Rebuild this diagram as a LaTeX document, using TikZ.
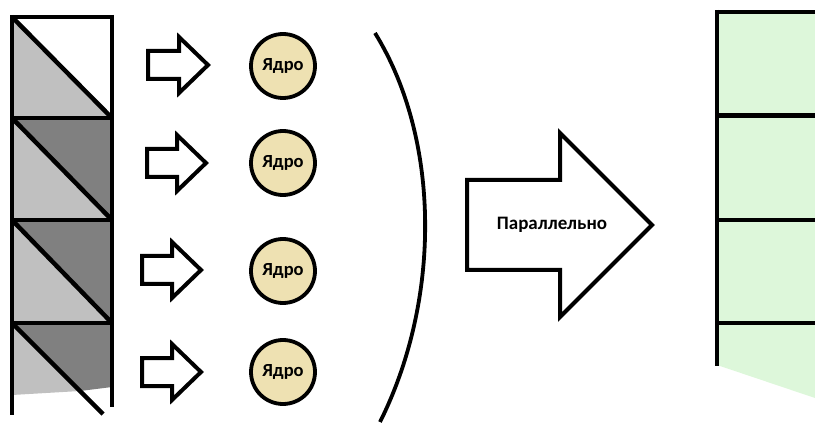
\documentclass[tikz,border=0pt]{standalone}
\usepackage{fontspec}
\setmainfont{Carlito}
\definecolor{lgray}{RGB}{192,192,192}
\definecolor{dgray}{RGB}{128,128,128}
\definecolor{core}{RGB}{238,225,178}
\definecolor{lgreen}{RGB}{221,247,218}
\tikzset{
  thickline/.style={line width=4.5pt},
  smallarrow/.style={draw, line width=4pt, fill=white, line join=miter},
  corenode/.style={circle, draw, line width=3.8pt, fill=core, minimum size=64pt, inner sep=0pt, font=\bfseries\fontsize{18.5}{20}\selectfont},
  lbl/.style={font=\bfseries\fontsize{19}{21}\selectfont}
}
\begin{document}
\begin{tikzpicture}[x=1pt,y=-1pt]
\useasboundingbox (0,0) rectangle (815,425);
% left column fills
\fill[white] (12,17) rectangle (112,118);
\fill[lgray] (12,17) -- (112,118) -- (12,118) -- cycle;
\fill[dgray] (12,118) -- (112,118) -- (112,220) -- cycle;
\fill[lgray] (12,118) -- (112,220) -- (12,220) -- cycle;
\fill[dgray] (12,220) -- (112,220) -- (112,323) -- cycle;
\fill[lgray] (12,220) -- (112,323) -- (12,323) -- cycle;
\fill[dgray] (12,323) -- (112,323) -- (112,387) -- (80,391) -- cycle;
\fill[lgray] (12,323) -- (80,391) -- (12,395) -- cycle;
% left column lines
\draw[thickline] (12,15) -- (12,415);
\draw[thickline] (112,15) -- (112,407);
\draw[thickline] (10,17) -- (114,17);
\draw[thickline] (10,118) -- (114,118);
\draw[thickline] (10,220) -- (114,220);
\draw[thickline] (10,323) -- (114,323);
\draw[thickline] (12,17) -- (112,118);
\draw[thickline] (12,118) -- (112,220);
\draw[thickline] (12,220) -- (112,323);
\draw[thickline] (12,323) -- (103,414);
% small arrows
\draw[smallarrow] (148,51) -- (179,51) -- (179,37) -- (208,65) -- (179,93) -- (179,79) -- (148,79) -- cycle;
\draw[smallarrow] (147,149) -- (177,149) -- (177,135) -- (206,163) -- (177,191) -- (177,177) -- (147,177) -- cycle;
\draw[smallarrow] (142,256) -- (172,256) -- (172,242) -- (201,270) -- (172,298) -- (172,284) -- (142,284) -- cycle;
\draw[smallarrow] (142,358) -- (172,358) -- (172,344) -- (201,372) -- (172,400) -- (172,386) -- (142,386) -- cycle;
% cores
\node[corenode] (c1) at (283,66) {Ядро};
\node[corenode] (c2) at (283,163) {Ядро};
\node[corenode] (c3) at (283,271) {Ядро};
\node[corenode] (c4) at (283,372) {Ядро};
% curve
\draw[line width=3.8pt] (375,33) .. controls (441,140) and (441,300) .. (380,422);
% big arrow
\draw[line width=4pt, fill=white, line join=miter] (467,180) -- (560,180) -- (560,133) -- (652,225) -- (560,317) -- (560,270) -- (467,270) -- cycle;
\node[lbl] (par) at (552,225) {Параллельно};
% right column
\fill[lgreen] (717,12) -- (815,12) -- (815,398) -- (717,365) -- cycle;
\draw[thickline] (717,10) -- (717,366);
\draw[line width=3.5pt] (715,12) -- (815,12);
\draw[line width=5pt] (715,116) -- (815,116);
\draw[line width=4.5pt] (715,220) -- (815,220);
\draw[line width=3.5pt] (715,323) -- (815,323);
\end{tikzpicture}
\end{document}
